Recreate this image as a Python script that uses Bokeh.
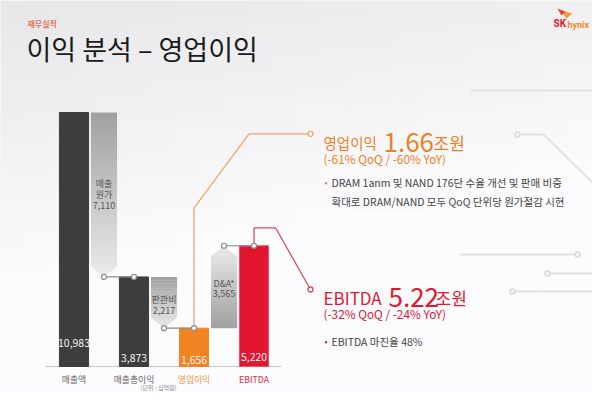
from bokeh.plotting import figure
from bokeh.models import Range1d
from bokeh.core.properties import value
from bokeh.embed import file_html
from bokeh.resources import INLINE

# ---------------- data ----------------
categories = ["매출액", "매출총이익", "영업이익", "EBITDA"]
totals = [10983, 3873, 1656, 5220]
total_labels = ["10,983", "3,873", "1,656", "5,220"]
step_names = [["매출", "원가"], ["판관비"], ["D&A*"]]
step_values = [-7110, -2217, 3565]
step_labels = ["7,110", "2,217", "3,565"]

title_small = "재무실적"
title_main = "이익 분석 – 영업이익"
unit_note = "(단위 : 십억원)"

op_title = "영업이익"
op_value = "1.66"
op_unit = "조원"
op_change = "(-61% QoQ / -60% YoY)"
op_notes = ["DRAM 1anm 및 NAND 176단 수율 개선 및 판매 비중",
            "확대로 DRAM/NAND 모두 QoQ 단위당 원가절감 시현"]

eb_title = "EBITDA"
eb_value = "5.22"
eb_unit = "조원"
eb_change = "(-32% QoQ / -24% YoY)"
eb_notes = ["EBITDA 마진율 48%"]

# ---------------- layout / style ----------------
W, H = 592, 392
SLOT0_PX = 73.5
SLOT_PX = 30.0
BASE_PX = 366.0
PX_PER_UNIT = 0.023127
BAR_W = 0.97
ARROW_W = 0.87
TIP_PX = 10.5
KR = "Noto Sans CJK KR"

DARK = "#3d3d3d"
ORANGE = "#f07f1f"
RED = "#e3162f"
bar_colors = [DARK, DARK, "#f28322", RED]
bar_lines = [DARK, DARK, "#f28322", "#ee5068"]
cat_colors = ["#666666", "#666666", "#f39440", "#e3283f"]


def xd(px):
    return (px - SLOT0_PX) / SLOT_PX


def yd(py):
    return (BASE_PX - py) / PX_PER_UNIT


p = figure(width=W, height=H, output_backend="svg", toolbar_location=None,
           x_range=Range1d(xd(0), xd(W)),
           y_range=Range1d(yd(H), yd(0)),
           x_axis_location=None, y_axis_location=None,
           min_border=0, outline_line_color=None)
p.grid.visible = False
p.background_fill_color = "#f4f4f5"
p.border_fill_color = "#f4f4f5"

# background gradient (decoration)
NX, NY = 24, 32
bl, br, bb, bt, bc = [], [], [], [], []
for j in range(NY):
    for i in range(NX):
        x0 = W * i / NX
        x1 = W * (i + 1) / NX
        y0 = H * j / NY
        y1 = H * (j + 1) / NY
        tx = (x0 + x1) / 2 / 600
        ty = (y0 + y1) / 2 / 400
        g = int(min(252, 231 + 22 * min(1.0, ty / 0.75) + 9 * tx))
        bl.append(xd(x0)); br.append(xd(x1) + 0.02)
        bt.append(yd(y0)); bb.append(yd(y1) - 5)
        bc.append("#%02x%02x%02x" % (g, g, min(255, g + 2)))
p.quad(left=bl, right=br, top=bt, bottom=bb, fill_color=bc, line_color=None)

# faint decorative lines
deco = [([470, 600], [90, 90]),
        ([517, 543, 600], [134, 134, 190]),
        ([460, 577], [254, 254]),
        ([547, 600], [273, 273]),
        ([512, 600], [291, 291])]
for xs, ys in deco:
    p.line([xd(v) for v in xs], [yd(v) for v in ys], line_color="#e2e2e4", line_width=2)
p.scatter([xd(v) for v in (517, 577, 547, 512)], [yd(v) for v in (134, 254, 273, 291)],
          size=5, fill_color="#f6f6f6", line_color="#dcdcde", line_width=1.5)

# baseline
p.line([xd(45), xd(281)], [0, 0], line_color="#c9c9c9", line_width=1)

# total bars
bar_x = [2 * i for i in range(len(totals))]
p.vbar(x=bar_x, top=totals, bottom=0, width=BAR_W, fill_color=bar_colors,
       line_color=bar_lines, line_width=1)


def hexmix(c0, c1, t):
    a = [int(c0[k:k + 2], 16) for k in (1, 3, 5)]
    b = [int(c1[k:k + 2], 16) for k in (1, 3, 5)]
    return "#%02x%02x%02x" % tuple(int(round(a[k] + (b[k] - a[k]) * t)) for k in range(3))


# step arrows with gradient
N = 32
tip_units = TIP_PX / PX_PER_UNIT
pxs, pys, pcs = [], [], []
for i, sv in enumerate(step_values):
    start = totals[i]
    xc = 2 * i + 1
    hw = ARROW_W / 2
    L = abs(sv)
    sgn = 1 if sv > 0 else -1

    def half(d):
        rem = L - d
        return hw if rem >= tip_units else hw * max(rem, 0) / tip_units

    for k in range(N):
        d0 = L * k / N
        d1 = L * (k + 1) / N + (L / N * 0.3 if k < N - 1 else 0)
        d1 = min(d1, L)
        ds = [d0]
        sh = L - tip_units
        if d0 < sh < d1:
            ds.append(sh)
        ds.append(d1)
        xs = [xc - half(d) for d in ds] + [xc + half(d) for d in reversed(ds)]
        ys = [start + sgn * d for d in ds] + [start + sgn * d for d in reversed(ds)]
        pxs.append(xs); pys.append(ys)
        pcs.append(hexmix("#a0a0a0", "#ebebeb", (k + 0.5) / N))
p.patches(pxs, pys, fill_color=pcs, line_color=None)

# connectors between arrow tip and next bar
for i, sv in enumerate(step_values):
    end = totals[i] + sv
    p.line([2 * i + 1, 2 * i + 2], [end, totals[i + 1]], line_color="#8e8e8e", line_width=1.2)

# leader lines
p.line([4, 4, xd(248.5), xd(310)], [totals[2], yd(207.7), yd(133.3), yd(133.3)],
       line_color="#f2a465", line_width=1.3)
p.line([6, 6, xd(275), xd(310)], [totals[3], yd(227.3), yd(227.3), yd(289)],
       line_color="#da4c62", line_width=1.3)

cx, cy = [], []
for i, sv in enumerate(step_values):
    cx += [2 * i + 1, 2 * i + 2]
    cy += [totals[i] + sv, totals[i + 1]]
p.scatter(cx, cy, size=5, fill_color="white", line_color="#8a8a8a", line_width=1.2)
p.scatter([xd(310)], [yd(133.3)], size=5, fill_color="white", line_color="#f2a465", line_width=1.3)
p.scatter([xd(310)], [yd(289)], size=5, fill_color="white", line_color="#da4c62", line_width=1.3)


def txt(x, y, s, size, color, align="left", baseline="middle", style="normal", font=KR):
    p.text(x=[x], y=[y], text=[s], text_font=value(font), text_font_size=f"{size}px",
           text_color=color, text_align=align, text_baseline=baseline,
           text_font_style=style)


# value labels in bars
label_px = [342, 357, 359, 356]
for i, lab in enumerate(total_labels):
    txt(bar_x[i], yd(label_px[i]), lab, 10.5, "#f4f4f4", align="center")

# arrow labels
arrow_label_px = [[183, 194, 205], [299, 310], [283, 293]]
for i in range(len(step_values)):
    lines = step_names[i] + [step_labels[i]]
    for ln, ypx in zip(lines, arrow_label_px[i]):
        txt(2 * i + 1, yd(ypx), ln, 9, "#555555", align="center")

# category labels
for i, c in enumerate(categories):
    txt(bar_x[i], yd(379), c, 8.8, cat_colors[i], align="center")
txt(xd(158), yd(386.5), unit_note, 6, "#8a8a8a", align="center")

# titles
txt(xd(27), yd(23), title_small, 8, "#e8735a", style="bold")
txt(xd(26), yd(48), title_main, 27, "#1a1a1a")

# logo
txt(xd(553), yd(23), "SK", 10, RED, style="bold", font="Roboto")
txt(xd(567), yd(24), "hynix", 9, "#f08a2a", style="bold", font="Roboto")
p.patch([xd(v) for v in (560, 572, 566)], [yd(v) for v in (10, 13, 18)], fill_color="#f39c3c", line_color=None)
p.patch([xd(v) for v in (557, 565, 561)], [yd(v) for v in (8, 11, 15)], fill_color="#e8452e", line_color=None)

# operating profit call-out
txt(xd(323), yd(142), op_title, 14.5, ORANGE, baseline="alphabetic")
txt(xd(383), yd(142), op_value, 26, ORANGE, baseline="alphabetic")
txt(xd(433), yd(142), op_unit, 17, ORANGE, baseline="alphabetic")
txt(xd(323), yd(158), op_change, 11.8, ORANGE)
txt(xd(324), yd(182), "•", 9, ORANGE)
for ln, ypx in zip(op_notes, [182, 201]):
    txt(xd(331), yd(ypx), ln, 10.5, "#444444")

# EBITDA call-out
txt(xd(323), yd(297), eb_title, 17, RED, baseline="alphabetic")
txt(xd(388), yd(297), eb_value, 26, RED, baseline="alphabetic")
txt(xd(435), yd(297), eb_unit, 17, RED, baseline="alphabetic")
txt(xd(323), yd(313), eb_change, 11.8, RED)
txt(xd(324), yd(341), "•", 9, RED)
for ln, ypx in zip(eb_notes, [341]):
    txt(xd(331), yd(ypx), ln, 10.5, "#444444")

open("out.html", "w").write(file_html(p, INLINE))
